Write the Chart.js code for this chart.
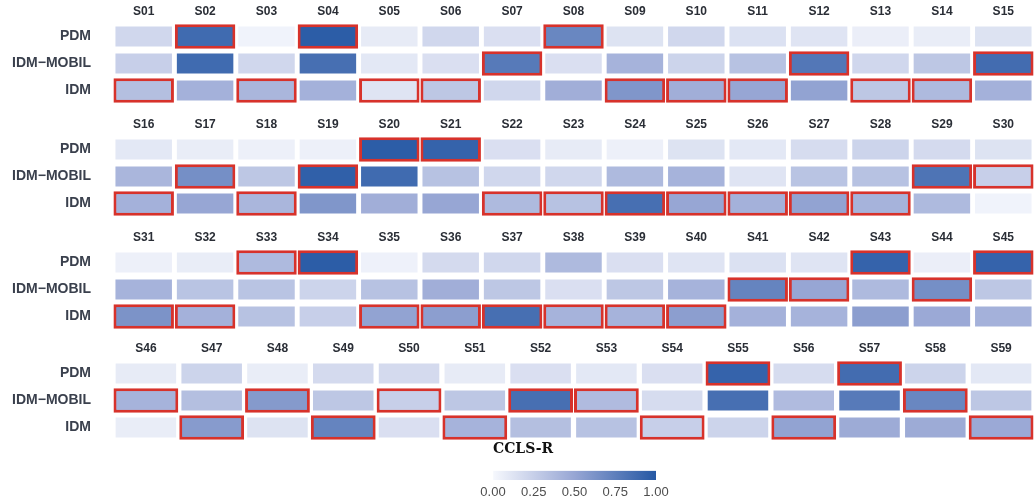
<!DOCTYPE html>
<html lang="en">
<head>
<meta charset="UTF-8">
<title>CCLS-R</title>
<style>
  html, body { margin: 0; padding: 0; background: #fff; }
  #app { position: relative; width: 1034px; height: 502px; overflow: hidden; }
  .panel { position: absolute; left: 0; width: 1034px; height: 111.4px; }
  #legend { position: absolute; left: 0; top: 436px; width: 1034px; height: 66px; }
</style>
</head>
<body>
<div id="app">
  <div class="panel" style="top:1px"><canvas id="p0"></canvas></div>
  <div class="panel" style="top:114px"><canvas id="p1"></canvas></div>
  <div class="panel" style="top:227px"><canvas id="p2"></canvas></div>
  <div class="panel" style="top:338px"><canvas id="p3"></canvas></div>
  <div id="legend"><canvas id="cbar"></canvas></div>
</div>

<script src="https://cdn.jsdelivr.net/npm/chart.js"></script>
<script>
var rows = ['PDM', 'IDM\u2212MOBIL', 'IDM'];

var scenarios = [
  'S01','S02','S03','S04','S05','S06','S07','S08','S09','S10','S11','S12','S13','S14','S15',
  'S16','S17','S18','S19','S20','S21','S22','S23','S24','S25','S26','S27','S28','S29','S30',
  'S31','S32','S33','S34','S35','S36','S37','S38','S39','S40','S41','S42','S43','S44','S45',
  'S46','S47','S48','S49','S50','S51','S52','S53','S54','S55','S56','S57','S58','S59'
];

// CCLS-R, scaled 0..1
var pdm = [
  0.20, 0.88, 0.03, 0.97, 0.08, 0.20, 0.15, 0.70, 0.13, 0.20, 0.14, 0.12, 0.06, 0.07, 0.13,
  0.10, 0.07, 0.05, 0.05, 0.97, 0.93, 0.15, 0.08, 0.05, 0.13, 0.10, 0.17, 0.22, 0.18, 0.13,
  0.05, 0.07, 0.38, 0.97, 0.04, 0.18, 0.20, 0.38, 0.15, 0.12, 0.14, 0.12, 0.93, 0.06, 0.93,
  0.08, 0.22, 0.07, 0.18, 0.18, 0.08, 0.15, 0.10, 0.15, 0.93, 0.17, 0.87, 0.22, 0.10
];
var idmMobil = [
  0.25, 0.88, 0.20, 0.85, 0.10, 0.15, 0.78, 0.15, 0.42, 0.22, 0.33, 0.80, 0.20, 0.30, 0.87,
  0.40, 0.65, 0.30, 0.95, 0.88, 0.33, 0.20, 0.20, 0.38, 0.42, 0.12, 0.32, 0.33, 0.82, 0.25,
  0.42, 0.32, 0.32, 0.22, 0.33, 0.45, 0.30, 0.15, 0.30, 0.42, 0.72, 0.50, 0.38, 0.65, 0.30,
  0.42, 0.35, 0.58, 0.30, 0.25, 0.30, 0.85, 0.37, 0.17, 0.85, 0.37, 0.78, 0.70, 0.30
];
var idm = [
  0.35, 0.43, 0.40, 0.43, 0.12, 0.30, 0.20, 0.45, 0.60, 0.45, 0.50, 0.52, 0.30, 0.38, 0.43,
  0.43, 0.50, 0.40, 0.60, 0.45, 0.50, 0.38, 0.33, 0.85, 0.50, 0.43, 0.52, 0.42, 0.38, 0.03,
  0.62, 0.43, 0.33, 0.25, 0.52, 0.55, 0.85, 0.42, 0.42, 0.55, 0.43, 0.42, 0.55, 0.48, 0.43,
  0.07, 0.57, 0.13, 0.72, 0.15, 0.42, 0.35, 0.33, 0.25, 0.22, 0.52, 0.47, 0.47, 0.48
];

// cells outlined in red
var pdmMarked = ['S02','S04','S08','S20','S21','S33','S34','S43','S45','S55','S57'];
var idmMobilMarked = ['S07','S12','S15','S17','S19','S29','S30','S41','S42','S44',
                      'S46','S48','S50','S52','S53','S58'];
var idmMarked = ['S01','S03','S05','S06','S09','S10','S11','S13','S14',
                 'S16','S18','S22','S23','S24','S25','S26','S27','S28',
                 'S31','S32','S35','S36','S37','S38','S39','S40',
                 'S47','S49','S51','S54','S56','S59'];

// first and last+1 scenario index of each panel
var panelStart = [0, 15, 30, 45];
var panelEnd = [15, 30, 45, 59];

var colorbarTicks = [0, 0.25, 0.5, 0.75, 1];

var cmap = [[0, [246, 248, 253]], [0.5, [151, 166, 212]], [1, [37, 88, 164]]];
function colorOf(v) {
  for (var i = 1; i < cmap.length; i++) {
    if (v <= cmap[i][0] || i == cmap.length - 1) {
      var a = cmap[i - 1], b = cmap[i];
      var t = Math.max(0, Math.min(1, (v - a[0]) / (b[0] - a[0])));
      var c = a[1].map(function (x, k) { return Math.round(x + (b[1][k] - x) * t); });
      return 'rgb(' + c.join(',') + ')';
    }
  }
}

var rowValues = [pdm, idmMobil, idm];
var rowMarked = [pdmMarked, idmMobilMarked, idmMarked];
var RED = '#d7322b';

for (var p = 0; p < 4; p++) {
  var labels = scenarios.slice(panelStart[p], panelEnd[p]);
  var datasets = [];
  for (var r = 0; r < 3; r++) {
    var vals = rowValues[r].slice(panelStart[p], panelEnd[p]);
    var cols = vals.map(colorOf);
    // plain cells
    datasets.push({
      data: vals.map(function () { return [r - 0.37, r + 0.37]; }),
      backgroundColor: cols,
      borderWidth: 0,
      categoryPercentage: 1,
      barPercentage: 0.92,
      order: 1
    });
    // red outline for marked cells
    var marked = rowMarked[r];
    datasets.push({
      data: labels.map(function (s) { return marked.indexOf(s) >= 0 ? [r - 0.45, r + 0.45] : null; }),
      backgroundColor: cols,
      borderColor: RED,
      borderWidth: 3,
      borderSkipped: false,
      categoryPercentage: 1,
      barPercentage: 0.985,
      order: 0
    });
  }

  new Chart(document.getElementById('p' + p), {
    type: 'bar',
    data: { labels: labels, datasets: datasets },
    options: {
      responsive: true,
      maintainAspectRatio: false,
      animation: false,
      layout: { padding: 0 },
      datasets: { bar: { grouped: false } },
      plugins: { legend: { display: false }, tooltip: { enabled: false } },
      scales: {
        x: {
          type: 'category',
          position: 'top',
          grid: { display: false, drawTicks: false },
          border: { display: false },
          ticks: {
            color: '#2a2e36',
            font: { family: 'Liberation Sans', weight: 'bold', size: 12 },
            padding: 4, maxRotation: 0, autoSkip: false
          },
          afterFit: function (s) { s.height = 22; }
        },
        y: {
          type: 'linear',
          reverse: true,
          min: -0.5, max: 2.5,
          // tick marks are hidden, their length only pushes the labels left
          grid: { display: false, drawTicks: true, tickLength: 22 },
          border: { display: false },
          afterBuildTicks: function (s) { s.ticks = rows.map(function (n, i) { return { value: i }; }); },
          ticks: {
            callback: function (v) { return rows[v]; },
            color: '#3a404d',
            font: { family: 'Liberation Sans', weight: 'bold', size: 14 },
            padding: 0
          },
          afterFit: function (s) { s.width = 113; }
        }
      }
    }
  });
}

// colour bar
new Chart(document.getElementById('cbar'), {
  type: 'bar',
  data: {
    labels: [''],
    datasets: [{
      data: [[0, 1]],
      backgroundColor: function (ctx) {
        var ca = ctx.chart.chartArea;
        if (!ca) return colorOf(0.5);
        var g = ctx.chart.ctx.createLinearGradient(ca.left, 0, ca.right, 0);
        cmap.forEach(function (s) { g.addColorStop(s[0], 'rgb(' + s[1].join(',') + ')'); });
        return g;
      },
      categoryPercentage: 1,
      barPercentage: 1
    }]
  },
  options: {
    indexAxis: 'y',
    responsive: true,
    maintainAspectRatio: false,
    animation: false,
    layout: { padding: { left: 493, right: 378 } },
    plugins: {
      legend: { display: false },
      tooltip: { enabled: false },
      title: {
        display: true, text: 'CCLS-R', align: 'start',
        color: '#111',
        font: { family: 'DejaVu Serif', weight: 'bold', size: 14 },
        padding: { top: 5, bottom: 13 }
      }
    },
    scales: {
      x: {
        type: 'linear', min: 0, max: 1, z: 1,
        // short white marks at top and bottom edge of the bar
        border: { display: false, dash: [2.5, 4.2] },
        grid: {
          drawTicks: false,
          color: function (c) { return (c.tick && c.tick.value > 0 && c.tick.value < 1) ? '#ffffff' : 'rgba(0,0,0,0)'; }
        },
        afterBuildTicks: function (s) { s.ticks = colorbarTicks.map(function (v) { return { value: v }; }); },
        ticks: {
          callback: function (v) { return v.toFixed(2); },
          color: '#4d4d4d',
          font: { family: 'Liberation Sans', size: 13 },
          padding: 5
        },
        afterFit: function (s) { s.height = 22; }
      },
      y: { display: false }
    }
  }
});
</script>
</body>
</html>
